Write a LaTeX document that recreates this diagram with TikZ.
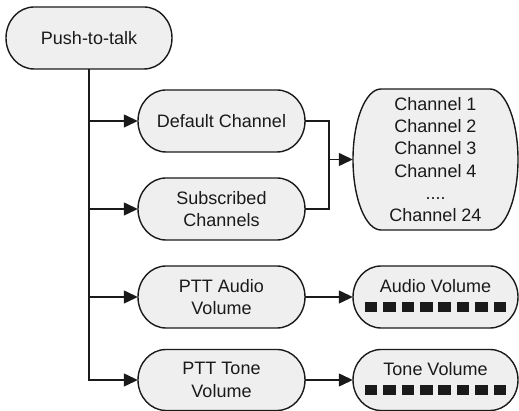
\documentclass[tikz,border=0pt]{standalone}
\usepackage{fontspec}
\setmainfont{Liberation Sans}
\usetikzlibrary{arrows.meta}
\definecolor{boxfill}{HTML}{EFEFEF}
\definecolor{ink}{HTML}{1A1A1A}
\newcommand\sqb{\rule[2.5pt]{12.5pt}{10.5pt}}
\newcommand\volbar{\sqb\hspace{5.9pt}\sqb\hspace{5.9pt}\sqb\hspace{5.9pt}\sqb\hspace{5.9pt}\sqb\hspace{5.9pt}\sqb\hspace{5.9pt}\sqb\hspace{5.9pt}\sqb}
\tikzset{
  pillstyle/.style={draw=ink, fill=boxfill, line width=1.4pt},
  pilltext/.style={inner sep=0pt, align=center, text=ink, font=\fontsize{18}{22.2}\selectfont},
  conn/.style={draw=ink, line width=1.3pt},
  arr/.style={conn, -{Triangle[length=14pt,width=13pt]}},
}
\newcommand\pillnode[7]{%
  \draw[pillstyle] ({#2-#4/2+#6},{#3+#5/2}) -- ({#2+#4/2-#6},{#3+#5/2})
    arc[start angle=90,end angle=-90,x radius=#6pt,y radius={#5pt/2}]
    -- ({#2-#4/2+#6},{#3-#5/2})
    arc[start angle=270,end angle=90,x radius=#6pt,y radius={#5pt/2}] -- cycle;
  \node[pilltext, minimum width=#4pt, minimum height=#5pt] (#1) at (#2,#3) {#7};
}
\begin{document}
\begin{tikzpicture}[x=1pt,y=1pt]
\useasboundingbox (0,0) rectangle (519,411);
\pillnode{ptt}{89}{373}{166}{62}{28}{Push-to-talk}
\pillnode{def}{221.5}{290}{167}{62}{28}{Default Channel}
\pillnode{sub}{221.5}{202}{167}{62}{28}{Subscribed\\Channels}
\pillnode{pa}{221.5}{114}{167}{62}{28}{PTT Audio\\Volume}
\pillnode{pt}{221.5}{31}{167}{61}{28}{PTT Tone\\Volume}
\pillnode{chan}{435.5}{251.5}{165}{141}{28}{Channel 1\\Channel 2\\Channel 3\\Channel 4\\....\\Channel 24}
\pillnode{av}{435.5}{114}{165}{62}{28}{Audio Volume\\\volbar}
\pillnode{tv}{435.5}{31}{165}{61}{28}{Tone Volume\\\volbar}
\coordinate (jn) at (329,251.5);
\draw[arr] (ptt.south) |- (def.west);
\draw[arr] (ptt.south) |- (sub.west);
\draw[arr] (ptt.south) |- (pa.west);
\draw[arr] (ptt.south) |- (pt.west);
\draw[conn] (def.east) -| (jn) |- (sub.east);
\draw[arr] (jn) -- (chan.west);
\draw[arr] (pa.east) -- (av.west);
\draw[arr] (pt.east) -- (tv.west);
\end{tikzpicture}
\end{document}
